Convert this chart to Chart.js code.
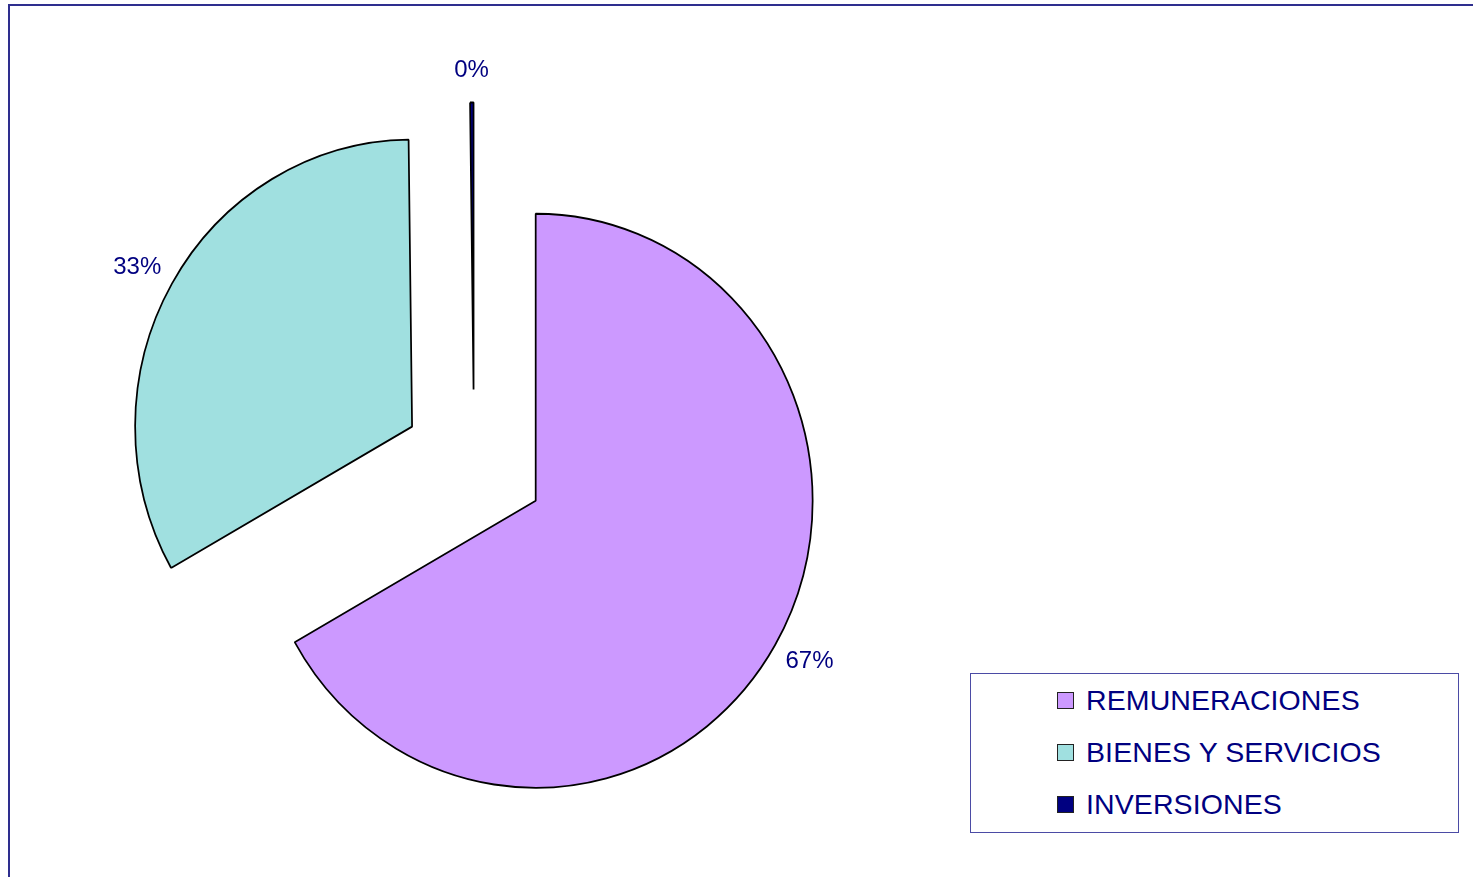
<!DOCTYPE html>
<html>
<head>
<meta charset="utf-8">
<script src="https://cdn.jsdelivr.net/npm/chart.js@4/dist/chart.umd.min.js"></script>
<style>
  html, body { margin: 0; padding: 0; background: #fff; overflow: hidden; }
  #wrap { position: relative; width: 1473px; height: 877px; overflow: hidden; }
  #frame { position: absolute; left: 8px; top: 4px; right: -20px; bottom: -20px; border: 2px solid #2E2E8E; }
  #c { position: absolute; left: 0; top: 0; }
  #legend { position: absolute; left: 970px; top: 673px; width: 489px; height: 160px; box-sizing: border-box;
            border: 1px solid #4B4BA5; background: #fff; font-family: "Liberation Sans", Arial, sans-serif; }
  .item { position: absolute; left: 86px; height: 30px; display: flex; align-items: center; }
  .sw { width: 15px; height: 15px; border: 1.5px solid #222; margin-right: 12px; }
  .lt { font-size: 28.5px; color: #000080; white-space: nowrap; letter-spacing: 0.1px; }
</style>
</head>
<body>
<div id="wrap">
  <div id="frame"></div>
  <canvas id="c" width="1473" height="877"></canvas>
  <div id="legend"></div>
</div>
<script>
const categories = ["REMUNERACIONES", "BIENES Y SERVICIOS", "INVERSIONES"];
const values = [66.8, 33.0, 0.2];
const colors = ["#CC99FF", "#A0E0E0", "#000080"];

const PIE_RADIUS = 287;
const EXPLODE = 74;      // pixel distance each slice is pulled out from the centre
const X_SCALE = 0.965;   // the original pie is slightly narrower than tall

// Draw each arc element (library geometry) pulled out along its mid-angle, like an exploded pie.
const explodePlugin = {
  id: 'explode',
  beforeDatasetsDraw(chart) {
    const ctx = chart.ctx;
    const meta = chart.getDatasetMeta(0);
    meta.data.forEach(arc => {
      const mid = (arc.startAngle + arc.endAngle) / 2;
      ctx.save();
      ctx.translate(arc.x, arc.y);
      ctx.scale(X_SCALE, 1);
      ctx.translate(-arc.x, -arc.y);
      ctx.translate(Math.cos(mid) * EXPLODE, Math.sin(mid) * EXPLODE);
      arc.draw(ctx);
      ctx.restore();
    });
    return false;
  },
  afterDraw(chart) {
    const ctx = chart.ctx;
    const meta = chart.getDatasetMeta(0);
    const data = chart.data.datasets[0].data;
    const total = data.reduce((a, b) => a + b, 0);
    ctx.save();
    ctx.font = '24px "Liberation Sans", Arial, sans-serif';
    ctx.fillStyle = '#000080';
    ctx.textAlign = 'center';
    ctx.textBaseline = 'middle';
    meta.data.forEach((arc, i) => {
      const mid = (arc.startAngle + arc.endAngle) / 2;
      const cx = Math.cos(mid), cy = Math.sin(mid);
      const d = arc.outerRadius + EXPLODE + 28;
      const txt = Math.round(data[i] / total * 100) + '%';
      ctx.fillText(txt, arc.x + cx * d * X_SCALE + cx * 13, arc.y + cy * d + cy * 4);
    });
    ctx.restore();
  }
};

new Chart(document.getElementById('c'), {
  type: 'pie',
  data: {
    labels: categories,
    datasets: [{
      data: values,
      backgroundColor: colors,
      borderColor: '#000000',
      borderWidth: 1.8,
      radius: PIE_RADIUS,
      clip: false
    }]
  },
  options: {
    responsive: false,
    animation: false,
    events: [],
    layout: { padding: { left: 100, right: 625, top: 100, bottom: 50 } },
    plugins: { legend: { display: false }, tooltip: { enabled: false } }
  },
  plugins: [explodePlugin]
});

const lg = document.getElementById('legend');
const rowsY = [26, 78, 130];
categories.forEach((c, i) => {
  const it = document.createElement('div');
  it.className = 'item';
  it.style.top = (rowsY[i] - 15) + 'px';
  it.innerHTML = '<div class="sw" style="background:' + colors[i] + '"></div><span class="lt">' + c + '</span>';
  lg.appendChild(it);
});
</script>
</body>
</html>
